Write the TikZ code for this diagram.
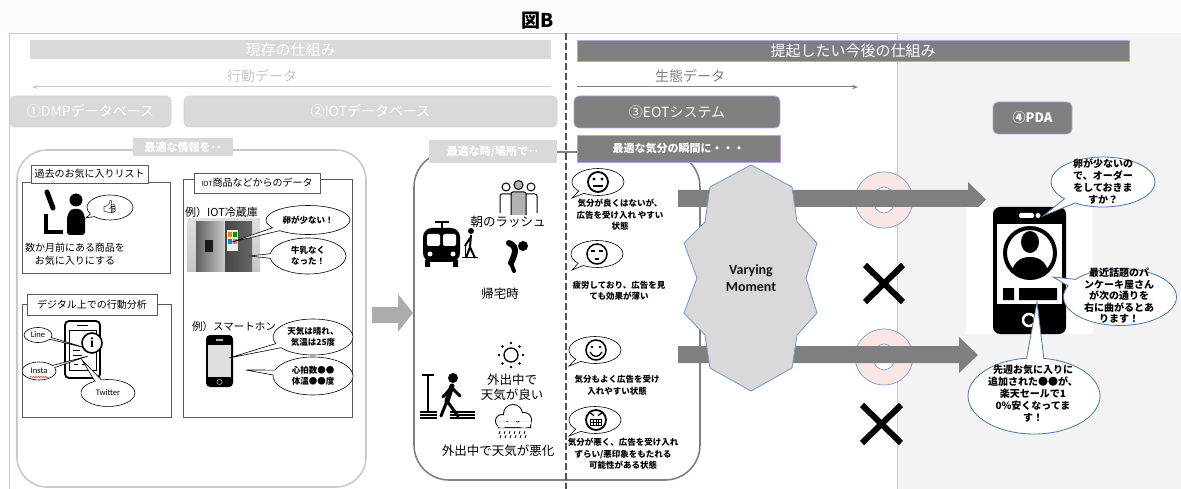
\documentclass[tikz,border=0pt]{standalone}
\usepackage{fontspec}
\setmainfont{Noto Sans CJK JP}
\newfontfamily\latinsans{Carlito}
\newfontfamily\serifi{Liberation Serif}
\newfontfamily\emojifont{Noto Emoji}
\usetikzlibrary{shapes.geometric,shapes.callouts,arrows.meta,positioning,decorations.pathmorphing}

\definecolor{panelgray}{HTML}{D9D9D9}
\definecolor{darkpanel}{HTML}{7F7F7F}
\definecolor{lilac}{HTML}{B9A3E3}
\definecolor{framegray}{HTML}{C9C9C9}
\definecolor{pinkring}{HTML}{FBE6E6}
\definecolor{ringblue}{HTML}{7C9DC4}
\definecolor{calloutblue}{HTML}{4A76A8}
\definecolor{rightbg}{HTML}{F3F3F3}

\newcommand\fsz[2]{\fontsize{#1}{#2}\selectfont}

\begin{document}
\begin{tikzpicture}[x=1pt, y=-1pt,
  lightbar/.style={fill=panelgray, text=white, inner sep=0pt},
  darkbar/.style={fill=darkpanel, draw=lilac, line width=0.8pt, text=white, inner sep=0pt},
  lightdb/.style={lightbar, draw=gray!35, rounded corners=5pt, line width=0.8pt},
  darkdb/.style={darkbar, rounded corners=5pt},
  tab/.style={draw=gray!70!black, fill=white, line width=0.7pt, inner sep=0pt, font=\fsz{10}{12}},
  panel/.style={draw=gray!70!black, line width=0.8pt},
  talk/.style={ellipse callout, draw=black, fill=white, line width=0.6pt, inner sep=0pt, align=center, font=\bfseries\fsz{8.5}{11}},
  mood/.style={ellipse callout, draw=black, fill=white, line width=0.6pt, inner sep=0pt, minimum width=52pt, minimum height=27pt},
  moodtext/.style={align=center, inner sep=0pt, font=\bfseries\fsz{8.5}{11.5}},
  pdatalk/.style={ellipse callout, draw=calloutblue, fill=white, line width=0.8pt, inner sep=0pt},
  pdatext/.style={align=center, inner sep=0pt, font=\bfseries\fsz{10}{12}},
  bigarrow/.style={fill=darkpanel},
  ring/.style={fill=pinkring, draw=ringblue, line width=0.7pt, even odd rule},
  cross/.style={line width=6pt},
  scene/.style={inner sep=0pt, font=\fsz{12.5}{15}, align=center}
]
\useasboundingbox (0,0) rectangle (1181,489);
\fill[gray!3] (0,0) rectangle (1181,33);
\fill[rightbg] (897,33) rectangle (1181,489);
\draw[framegray, line width=0.8pt] (9,489) -- (9,33) -- (897,33) -- (897,489);
\node[font=\bfseries\fsz{19}{19}] (title) at (538,21) {図B};

% headers
\node[lightbar, minimum width=521pt, minimum height=19pt, font=\fsz{15}{15}] (nowbar) at (290.5,49.5) {現存の仕組み};
\node[darkbar, minimum width=552pt, minimum height=21pt, font=\fsz{15}{15}] (nextbar) at (853,50.5) {提起したい今後の仕組み};

\node[text=gray!45, font=\fsz{14}{14}] (actdata) at (262,76) {行動データ};
\coordinate (actR) at (551,87);
\coordinate (actL) at (32,87);
\draw[gray!40, line width=1pt, -{Stealth[length=6pt]}] (actR) -- (actL);

\node[text=darkpanel, font=\fsz{14}{14}] (biodata) at (690,76) {生態データ};
\coordinate (bioL) at (577,87);
\coordinate (bioR) at (858,87);
\draw[darkpanel, line width=1pt, -{Stealth[length=6pt]}] (bioL) -- (bioR);

\node[lightdb, minimum width=161pt, minimum height=31pt, font=\fsz{14}{14}] (dmp) at (90.5,111.5) {①DMPデータベース};
\node[lightdb, minimum width=373pt, minimum height=31pt, font=\fsz{14}{14}] (iotdb) at (370.5,111.5) {②IOTデータベース};
\node[darkdb, minimum width=206pt, minimum height=32pt, font=\fsz{14}{14}] (eot) at (677,112) {③EOTシステム};
\node[darkdb, minimum width=79pt, minimum height=32pt, font=\bfseries\fsz{13}{13}] (pda) at (1032.5,118) {④PDA};

% left panel
\draw[framegray, line width=1.6pt, rounded corners=30pt] (17,150) rectangle (366,487);
\node[lightbar, minimum width=100pt, minimum height=18pt, font=\bfseries\fsz{11}{11}] (infolbl) at (183,147) {最適な情報を‥};

\draw[panel] (22,182) rectangle (170,273);
\node[tab, minimum width=117pt, minimum height=18pt] (favtab) at (89.5,174) {過去のお気に入りリスト};
\draw[panel] (183,179) rectangle (352,417);
\node[tab, minimum width=126pt, minimum height=20pt] (iottab) at (257,183) {{\fsz{7}{7}IOT}商品などからのデータ};
\draw[panel] (22,304) rectangle (171,417);
\node[tab, minimum width=130pt, minimum height=21pt] (webtab) at (92,304.5) {デジタル上での行動分析};

% chair and person
\draw[line width=5pt, line cap=round] (47,192) -- (53,208);
\draw[line width=4pt] (46,214) -- (46,232) -- (63,232);
\fill (76,200) circle[radius=6.5];
\fill[rounded corners=3pt] (67,235) -- (67,216) -- (71,209) -- (81,209) -- (85,216) -- (85,235) -- cycle;
\node[talk, minimum width=46pt, minimum height=25pt, callout absolute pointer={(86,218)}] (likebub) at (110,207.5) {};
\node[inner sep=0pt, font=\emojifont\fsz{13}{13}] (like) at (110,207) {👍};
\node[font=\fsz{10}{12.5}, align=center] (favtext) at (75,254) {数か月前にある商品を\\お気に入りにする};

% fridge
\node[anchor=west, font=\fsz{11}{11}, inner sep=0pt] (fridgelbl) at (185,212) {例）IOT冷蔵庫};
\shade[top color=gray!25, bottom color=gray!45] (187,219) rectangle (260,272);
\shade[left color=gray!75!black, right color=gray!45] (196,222) rectangle (224,272);
\shade[left color=gray!55!black, right color=gray!80!black] (225,222) rectangle (252,272);
\fill[gray!15] (227,230) rectangle (238,251);
\fill[orange] (228,232) rectangle (232,237);
\fill[green!60!black] (233,232) rectangle (237,237);
\fill[cyan!70!blue] (228,239) rectangle (232,244);
\fill[red!60] (233,239) rectangle (237,244);
\fill[gray!20!black] (205,240) rectangle (213,252);
\node[talk, minimum width=84pt, minimum height=29pt, callout absolute pointer={(232,242)}] (eggs) at (308,220) {卵が少ない！};
\node[talk, minimum width=76pt, minimum height=36pt, callout absolute pointer={(250,256)}] (milk) at (308,256) {牛乳なく\\なった！};

% smartphone
\node[anchor=west, font=\fsz{10.5}{10.5}, inner sep=0pt] (phonelbl) at (192,327) {例）スマートホン};
\fill[rounded corners=4pt] (206,335) rectangle (233,387);
\fill[gray!25] (208,345) rectangle (231,377);
\fill[gray!60] (216,339) rectangle (223,340.5);
\draw[gray!60, line width=0.6pt] (219.5,382) circle[radius=2.5];
\node[talk, minimum width=80pt, minimum height=36pt, callout absolute pointer={(229,358)}] (weather) at (313,337) {天気は晴れ、\\気温は25度};
\node[talk, minimum width=80pt, minimum height=38pt, callout absolute pointer={(246,370)}] (vitals) at (313,376) {心拍数●●\\体温●●度};

% digital behaviour
\draw[line width=1.8pt, rounded corners=4pt] (65,321) rectangle (100,378);
\draw[line width=1pt] (69,330) rectangle (96,370);
\draw[line width=1.2pt] (77,325.5) -- (88,325.5);
\draw[line width=1pt] (73,350) -- (80,350) (73,355) -- (82,355) (74,364) -- (78,364) (82,364) -- (86,364);
\node[talk, font=\latinsans\fsz{8.5}{8.5}, minimum width=28pt, minimum height=15pt, callout absolute pointer={(86,348)}] (line) at (38,335) {Line};
\node[talk, font=\latinsans\fsz{8.5}{8.5}, minimum width=34pt, minimum height=18pt, callout absolute pointer={(88,356)}] (insta) at (39,371) {Insta};
\draw[red!80, line width=0.5pt, decorate, decoration={snake, amplitude=0.7pt, segment length=2.5pt}] (30,377) -- (49,377);
\node[talk, font=\latinsans\fsz{8.5}{8.5}, minimum width=54pt, minimum height=27pt, callout absolute pointer={(82,360)}] (twitter) at (108,393) {Twitter};
\node[circle, draw, line width=1.6pt, fill=white, minimum size=20pt, inner sep=0pt, font=\serifi\bfseries\fsz{14}{14}] (infoicon) at (92,343) {i};

\fill[gray!65] (372,307) -- (398,307) -- (398,294) -- (413,313) -- (398,332) -- (398,323) -- (372,323) -- cycle;

% middle panel
\draw[darkpanel, line width=1.6pt, rounded corners=35pt] (414,152) rectangle (700,480);
\node[lightbar, minimum width=128pt, minimum height=23pt, font=\bfseries\fsz{11}{11}] (timelbl) at (493,151.5) {最適な時/場所で‥};
\node[darkbar, minimum width=203pt, minimum height=27pt, font=\bfseries\fsz{11}{11}] (moodlbl) at (678.5,148.5) {最適な気分の瞬間に・・・};

% crowd
\foreach \px in {506,531} {
  \draw[line width=1pt, fill=white] (\px,187) circle[radius=4];
  \draw[line width=1pt, fill=white, rounded corners=2pt] (\px-6,213) -- (\px-6,194) -- (\px+6,194) -- (\px+6,213);
}
\draw[line width=1pt, fill=gray!60] (518.5,185) circle[radius=4.5];
\draw[line width=1pt, fill=gray!60, rounded corners=2pt] (511,215) -- (511,192) -- (526,192) -- (526,215);
\node[scene] (rush) at (508,222) {朝のラッシュ};

% train and passenger
\fill[rounded corners=9pt] (423,228) rectangle (460,262);
\draw[line width=1.5pt] (435,222) -- (449,222) (442,222) -- (442,228);
\fill[white, rounded corners=2pt] (427,234) rectangle (440,246);
\fill[white, rounded corners=2pt] (443,234) rectangle (456,246);
\fill[white] (430,254) circle[radius=2.5] (453,254) circle[radius=2.5];
\fill (425,260) rectangle (430,267) (453,260) rectangle (458,267);
\fill (471,231) circle[radius=3];
\draw[line width=2pt] (471,235) -- (470,247) -- (466,258) (470,247) -- (475,258) (470,238) -- (465,246);
\draw[line width=1pt] (465,246) -- (465,258) (462,258) -- (478,258);

% tired commuter
\fill (523,246) circle[radius=5];
\draw[line width=6pt, line cap=round] (509,243) .. controls (519,247) and (514,256) .. (511,263);
\draw[line width=4pt, line cap=round] (511,263) -- (514,271);
\node[scene] (home) at (500,294) {帰宅時};

% sun
\draw[line width=1.3pt] (511,355) circle[radius=7];
\foreach \a in {0,45,...,315}
  \fill[shift={(511,355)}] (\a:12) circle[radius=1.3];
\node[scene] (sunny) at (512,387) {外出中で\\天気が良い};

% pedestrian
\draw[line width=1.5pt] (428,375) -- (428,412) (422,375) -- (434,375);
\fill (453,378) circle[radius=5];
\draw[line width=5pt, line cap=round] (452,386) -- (447,401);
\draw[line width=3pt, line cap=round] (447,401) -- (441,416) (447,401) -- (458,416) (451,388) -- (443,397) (452,388) -- (460,396);
\draw[line width=1.3pt] (420,412) -- (437,412) (420,415) -- (437,415) (420,418) -- (437,418)
  (450,412) -- (475,412) (450,415) -- (475,415) (450,418) -- (475,418);

% rain cloud
\fill (502,421) circle[radius=7] (513,414) circle[radius=10] (524,420) circle[radius=8] (498,421) rectangle (531,428);
\fill[white] (502,421) circle[radius=6] (513,414) circle[radius=9] (524,420) circle[radius=7] (499,421) rectangle (530,427);
\foreach \x in {500,505,510,515,520,525}
  \draw[line width=0.8pt] (\x,431) -- (\x-1,434) (\x+1,435) -- (\x,438);
\node[scene] (rainy) at (498,451) {外出中で天気が悪化};

% mood bubbles
\node[mood, callout absolute pointer={(572,198)}] (calm) at (598,182) {};
\draw[line width=1.8pt] (598,182) circle[radius=10];
\fill (594,179) circle[radius=1.6] (602,179) circle[radius=1.6];
\draw[line width=1.5pt] (593,186) -- (603,186);
\node[moodtext] (calmtext) at (620,215) {気分が良くはないが、\\広告を受け入れ やすい\\状態};

\node[mood, callout absolute pointer={(572,270)}] (tired) at (597,254) {};
\draw[line width=1.5pt] (597,254) circle[radius=10];
\draw[line width=1.2pt] (591,251) -- (595,251) (599,251) -- (603,251) (595,259) -- (599,259);
\node[moodtext] (tiredtext) at (619,291) {疲労しており、広告を見\\ても効果が薄い};

\node[mood, callout absolute pointer={(569,366)}] (happy) at (595,350) {};
\draw[line width=1.5pt] (596,350) circle[radius=10];
\fill (592,347) circle[radius=1.4] (600,347) circle[radius=1.4];
\draw[line width=1.3pt] (590,352) .. controls (593,358) and (599,358) .. (602,352);
\node[moodtext] (happytext) at (617,385) {気分もよく広告を受け\\入れやすい状態};

\node[mood, callout absolute pointer={(569,436)}] (angry) at (595,420) {};
\draw[line width=1.8pt] (596,420) circle[radius=10];
\draw[line width=1.3pt] (590,413) -- (594,415.5) (602,413) -- (598,415.5);
\draw[line width=1pt] (590.5,419) rectangle (601.5,425) (590.5,422) -- (601.5,422) (593.5,419) -- (593.5,425) (596,419) -- (596,425) (598.5,419) -- (598.5,425);
\node[moodtext] (angrytext) at (623,454) {気分が悪く、広告を受け入れ\\ずらい/悪印象をもたれる\\可能性がある状態};

\draw[gray!65!black, line width=2.2pt, dash pattern=on 7pt off 3pt] (566,33) -- (566,489);

% delivery
\draw[ring] (884,200) ellipse[x radius=29, y radius=28] (884,200) ellipse[x radius=11, y radius=13];
\draw[ring] (884,357) ellipse[x radius=29, y radius=28] (884,357) ellipse[x radius=11, y radius=13];
\fill[bigarrow] (678,190) -- (968,190) -- (968,182) -- (986,199.5) -- (968,217) -- (968,207) -- (678,207) -- cycle;
\fill[bigarrow] (678,346) -- (959,346) -- (959,337) -- (978,355) -- (959,373) -- (959,363) -- (678,363) -- cycle;
\draw[fill=panelgray, draw=ringblue, line width=0.9pt] (751,165) -- (792,187) -- (797,222) -- (817,243) -- (806,278) -- (817,313) -- (797,335) -- (792,368) -- (751,391) -- (710,368) -- (705,335) -- (684,313) -- (697,278) -- (684,243) -- (705,222) -- (710,187) -- cycle;
\node[font=\latinsans\bfseries\fsz{14}{17}, align=center, text=gray!15!black] (moment) at (751,278) {Varying\\Moment};
\draw[cross] (865,265) -- (903,302) (865,302) -- (903,265);
\draw[cross] (862,405) -- (901,443) (862,443) -- (901,405);

% PDA handset
\fill[white] (966,207) rectangle (1093,334);
\fill[rounded corners=7pt] (993,207) rectangle (1066,334);
\fill[white] (997,224) rectangle (1062,304);
\fill[white, rounded corners=1.5pt] (1019,213) rectangle (1034,218);
\fill[white] (1038,215.5) circle[radius=2.5];
\begin{scope}
  \clip (1030,253) circle[radius=25];
  \fill (1030,242) ellipse[x radius=9, y radius=11];
  \fill (1010,280) .. controls (1012,262) and (1020,257) .. (1030,257) .. controls (1040,257) and (1048,262) .. (1050,280) -- cycle;
\end{scope}
\draw[line width=4pt] (1030,253) circle[radius=25];
\fill (1003,288) rectangle (1014,300) (1019,288) rectangle (1057,300);
\draw[white, line width=2.5pt] (1029,320) circle[radius=6];

\node[pdatalk, minimum width=104pt, minimum height=50pt, callout absolute pointer={(1043,216)}] (askorder) at (1103,182) {};
\node[pdatext] (askordertext) at (askorder.center) {卵が少ないの\\で、オーダー\\をしておきま\\すか？};
\node[pdatalk, minimum width=113pt, minimum height=57pt, callout absolute pointer={(1053,277)}] (pancake) at (1120,297) {};
\node[pdatext, font=\bfseries\fsz{10}{11.5}] (pancaketext) at (1119,296) {最近話題のパ\\ンケーキ屋さん\\が次の通りを\\右に曲がるとあ\\ります！};
\node[pdatalk, minimum width=132pt, minimum height=76pt, callout absolute pointer={(1037,302)}] (sale) at (1034,396) {};
\node[pdatext] (saletext) at (1033,394) {先週お気に入りに\\追加された●●が、\\楽天セールで1\\0\%安くなってま\\す！};
\end{tikzpicture}
\end{document}
